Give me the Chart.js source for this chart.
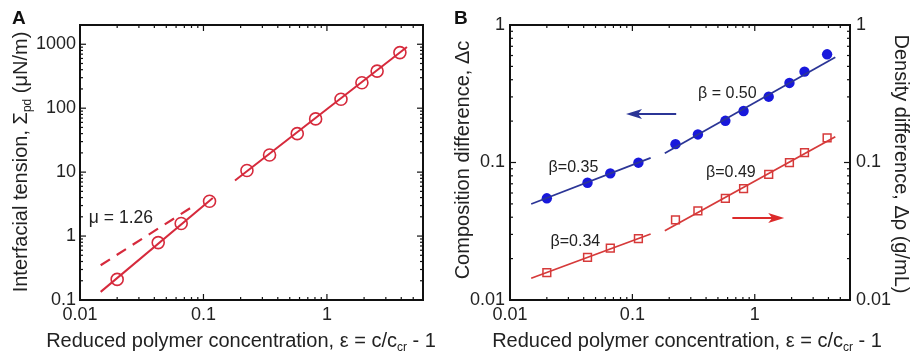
<!DOCTYPE html>
<html>
<head>
<meta charset="utf-8">
<script src="https://cdn.jsdelivr.net/npm/chart.js@4/dist/chart.umd.min.js"></script>
<style>
html, body { margin: 0; padding: 0; background: #fff; }
#wrap { position: relative; width: 912px; height: 352px; }
#chart-a { position: absolute; left: 0; top: 0; }
#chart-b { position: absolute; left: 452px; top: 0; }
</style>
</head>
<body>
<div id="wrap">
	<canvas id="chart-a" width="452" height="352"></canvas>
	<canvas id="chart-b" width="460" height="352"></canvas>
</div>
<script>
// Reduced polymer concentration (same for both panels)
let eps = [0.02, 0.043, 0.066, 0.112, 0.225, 0.343, 0.575, 0.81, 1.3, 1.92, 2.55, 3.9]

// Panel A: interfacial tension (uN/m)
let tension = [0.21, 0.79, 1.57, 3.5, 10.6, 18.5, 40, 68, 138, 250, 380, 740]
let fitLowAx = [0.0147, 0.119]
let fitLowAy = [0.134, 3.94]
let fitHighAx = [0.18, 4.45]
let fitHighAy = [7.4, 908]
let slopeAx = [0.0147, 0.082]   // dashed mu = 1.26 guide
let slopeAy = [0.35, 2.9]

// Panel B: composition difference (left) and density difference (right)
let deltaC = [0.0549, 0.0713, 0.0834, 0.0997, 0.136, 0.160, 0.201, 0.237, 0.301, 0.379, 0.458, 0.612]
let deltaRho = [0.0158, 0.0204, 0.0238, 0.0279, 0.0382, 0.0444, 0.0549, 0.0645, 0.082, 0.0997, 0.118, 0.151]
let fitLowCx = [0.0149, 0.141]
let fitLowCy = [0.0499, 0.108]
let fitHighCx = [0.184, 4.55]
let fitHighCy = [0.1167, 0.582]
let fitLowRx = [0.0149, 0.141]
let fitLowRy = [0.0144, 0.0302]
let fitHighRx = [0.184, 4.55]
let fitHighRy = [0.0319, 0.154]

let font = '"Liberation Sans", Arial, Helvetica, sans-serif'
let ink = '#222'
let redA = '#d62a3c'
let blueDot = '#1818dc'
let blueLine = '#2b3596'
let redB = '#d63a3a'

let pts = (xs, ys) => xs.map((x, i) => ({ x, y: ys[i] }))

let decadeLabel = (value) => {
	let l = Math.log10(value)
	return Math.abs(l - Math.round(l)) < 1e-6 ? String(+value.toPrecision(6)) : ''
}

let logValues = (min, max) => {
	let out = []
	for (let e = Math.floor(Math.log10(min)); e <= Math.ceil(Math.log10(max)); e++) {
		for (let m = 1; m <= 9; m++) {
			let v = m * Math.pow(10, e)
			if (v >= min * 0.999 && v <= max * 1.001) out.push({ v, major: m === 1 })
		}
	}
	return out
}

let drawRich = (ctx, parts, size, cx, cy, rot) => {
	let sub = Math.round(size * 0.6)
	ctx.save()
	ctx.translate(cx, cy)
	ctx.rotate(rot)
	ctx.fillStyle = ink
	ctx.textBaseline = 'middle'
	ctx.textAlign = 'left'
	let w = 0
	parts.forEach(p => {
		ctx.font = (p.sub ? sub : size) + 'px ' + font
		w += ctx.measureText(p.t).width
	})
	let x = -w / 2
	parts.forEach(p => {
		ctx.font = (p.sub ? sub : size) + 'px ' + font
		ctx.fillText(p.t, x, p.sub ? size * 0.32 : 0)
		x += ctx.measureText(p.t).width
	})
	ctx.restore()
}

// box, inward ticks, notes, arrows and titles
let frame = {
	id: 'frame',
	afterDatasetsDraw(chart) {
		let { ctx, chartArea: a, scales } = chart
		let o = chart.options.plugins.frame
		ctx.save()
		ctx.strokeStyle = '#111'
		ctx.lineWidth = 1.2
		let seg = (x0, y0, x1, y1) => { ctx.beginPath(); ctx.moveTo(x0, y0); ctx.lineTo(x1, y1); ctx.stroke() }
		logValues(scales.x.min, scales.x.max).forEach(t => {
			let p = scales.x.getPixelForValue(t.v)
			let len = t.major ? 6 : 3
			seg(p, a.bottom, p, a.bottom - len)
			seg(p, a.top, p, a.top + len)
		})
		logValues(scales.y.min, scales.y.max).forEach(t => {
			let p = scales.y.getPixelForValue(t.v)
			let len = t.major ? 6 : 3
			seg(a.left, p, a.left + len, p)
			seg(a.right, p, a.right - len, p)
		})
		ctx.lineWidth = 2
		ctx.strokeRect(a.left, a.top, a.right - a.left, a.bottom - a.top)

		// annotations in data space
		ctx.fillStyle = ink
		ctx.textBaseline = 'middle'
		;(o.notes || []).forEach(n => {
			ctx.font = n.size + 'px ' + font
			ctx.textAlign = n.align
			ctx.fillText(n.text, scales.x.getPixelForValue(n.x), scales.y.getPixelForValue(n.y))
		})
		;(o.arrows || []).forEach(r => {
			let x0 = scales.x.getPixelForValue(r.x0)
			let x1 = scales.x.getPixelForValue(r.x1)
			let y = scales.y.getPixelForValue(r.y)
			let dir = Math.sign(x1 - x0)
			ctx.strokeStyle = r.color
			ctx.fillStyle = r.color
			ctx.lineWidth = 2
			seg(x0, y, x1 - dir * 10, y)
			ctx.beginPath()
			ctx.moveTo(x1, y)
			ctx.lineTo(x1 - dir * 16, y - 5)
			ctx.lineTo(x1 - dir * 12, y)
			ctx.lineTo(x1 - dir * 16, y + 5)
			ctx.closePath()
			ctx.fill()
		})

		// axis titles and panel letter
		;(o.titles || []).forEach(t => drawRich(ctx, t.parts, 20, t.cx, t.cy, t.rot))
		ctx.fillStyle = '#111'
		ctx.font = 'bold 19px ' + font
		ctx.textAlign = 'left'
		ctx.textBaseline = 'middle'
		ctx.fillText(o.letter, o.letterX, 19)
		ctx.restore()
	}
}

let xTitle = [{ t: 'Reduced polymer concentration, ε = c/c' }, { t: 'cr', sub: true }, { t: ' - 1' }]

let tickFont = { size: 18, family: font }

let logAxis = (min, max, extra) => Object.assign({
	type: 'logarithmic',
	min, max,
	grid: { display: false, drawTicks: false },
	border: { display: false },
	ticks: { autoSkip: false, maxRotation: 0, padding: 4, color: ink, font: tickFont, callback: decadeLabel },
}, extra)

// Panel A
var chartA = new Chart(document.getElementById('chart-a'), {
	type: 'scatter',
	data: {
		datasets: [
			{ data: pts(fitLowAx, fitLowAy), showLine: true, pointRadius: 0, borderColor: redA, borderWidth: 2 },
			{ data: pts(fitHighAx, fitHighAy), showLine: true, pointRadius: 0, borderColor: redA, borderWidth: 2 },
			{ data: pts(slopeAx, slopeAy), showLine: true, pointRadius: 0, borderColor: redA, borderWidth: 2.2, borderDash: [11, 8] },
			{ data: pts(eps, tension), pointStyle: 'circle', pointRadius: 6, borderColor: redA, borderWidth: 1.6, backgroundColor: 'rgba(0,0,0,0)' },
		]
	},
	options: {
		responsive: false, animation: false, devicePixelRatio: 1,
		layout: { padding: { top: 25, right: 29, left: 0, bottom: 0 } },
		plugins: {
			legend: { display: false }, tooltip: { enabled: false },
			frame: {
				letter: 'A', letterX: 12,
				notes: [{ text: 'μ = 1.26', x: 0.0118, y: 1.9, align: 'left', size: 17.5 }],
				titles: [
					{ parts: xTitle, cx: 241, cy: 341, rot: 0 },
					{ parts: [{ t: 'Interfacial tension, Σ' }, { t: 'pd', sub: true }, { t: ' (μN/m)' }], cx: 21, cy: 162, rot: -Math.PI / 2 },
				]
			}
		},
		scales: {
			x: logAxis(0.01, 6, { afterFit: s => { s.height = 52 } }),
			y: logAxis(0.1, 2000, { afterFit: s => { s.width = 80 } }),
		}
	},
	plugins: [frame]
})

// Panel B
var chartB = new Chart(document.getElementById('chart-b'), {
	type: 'scatter',
	data: {
		datasets: [
			{ data: pts(fitLowCx, fitLowCy), showLine: true, pointRadius: 0, borderColor: blueLine, borderWidth: 1.8 },
			{ data: pts(fitHighCx, fitHighCy), showLine: true, pointRadius: 0, borderColor: blueLine, borderWidth: 1.8 },
			{ data: pts(fitLowRx, fitLowRy), showLine: true, pointRadius: 0, borderColor: redB, borderWidth: 1.8, yAxisID: 'y1' },
			{ data: pts(fitHighRx, fitHighRy), showLine: true, pointRadius: 0, borderColor: redB, borderWidth: 1.8, yAxisID: 'y1' },
			{ data: pts(eps, deltaC), pointStyle: 'circle', pointRadius: 5.2, borderWidth: 0, backgroundColor: blueDot },
			{ data: pts(eps, deltaRho), pointStyle: 'rect', pointRadius: 5.5, borderColor: redB, borderWidth: 1.5, backgroundColor: 'rgba(0,0,0,0)', yAxisID: 'y1' },
		]
	},
	options: {
		responsive: false, animation: false, devicePixelRatio: 1,
		layout: { padding: { top: 25, right: 0, left: 0, bottom: 0 } },
		plugins: {
			legend: { display: false }, tooltip: { enabled: false },
			frame: {
				letter: 'B', letterX: 2,
				notes: [
					{ text: 'β = 0.50', x: 0.597, y: 0.315, align: 'center', size: 16 },
					{ text: 'β=0.35', x: 0.033, y: 0.0912, align: 'center', size: 16 },
					{ text: 'β=0.49', x: 0.638, y: 0.0839, align: 'center', size: 16 },
					{ text: 'β=0.34', x: 0.0342, y: 0.0264, align: 'center', size: 16 },
				],
				arrows: [
					{ x0: 0.228, x1: 0.0887, y: 0.225, color: blueLine },
					{ x0: 0.656, x1: 1.74, y: 0.0395, color: '#dc2a2a' },
				],
				titles: [
					{ parts: xTitle, cx: 235, cy: 341, rot: 0 },
					{ parts: [{ t: 'Composition difference, Δc' }], cx: 11, cy: 160, rot: -Math.PI / 2 },
					{ parts: [{ t: 'Density difference, Δρ (g/mL)' }], cx: 449, cy: 164, rot: Math.PI / 2 },
				]
			}
		},
		scales: {
			x: logAxis(0.01, 6, { afterFit: s => { s.height = 52 } }),
			y: logAxis(0.01, 1, { afterFit: s => { s.width = 58 }, ticks: { autoSkip: false, padding: 5, color: ink, font: tickFont, callback: decadeLabel } }),
			y1: logAxis(0.01, 1, { position: 'right', afterFit: s => { s.width = 62 }, ticks: { autoSkip: false, padding: 6, color: ink, font: tickFont, callback: decadeLabel } }),
		}
	},
	plugins: [frame]
})
</script>
</body>
</html>
